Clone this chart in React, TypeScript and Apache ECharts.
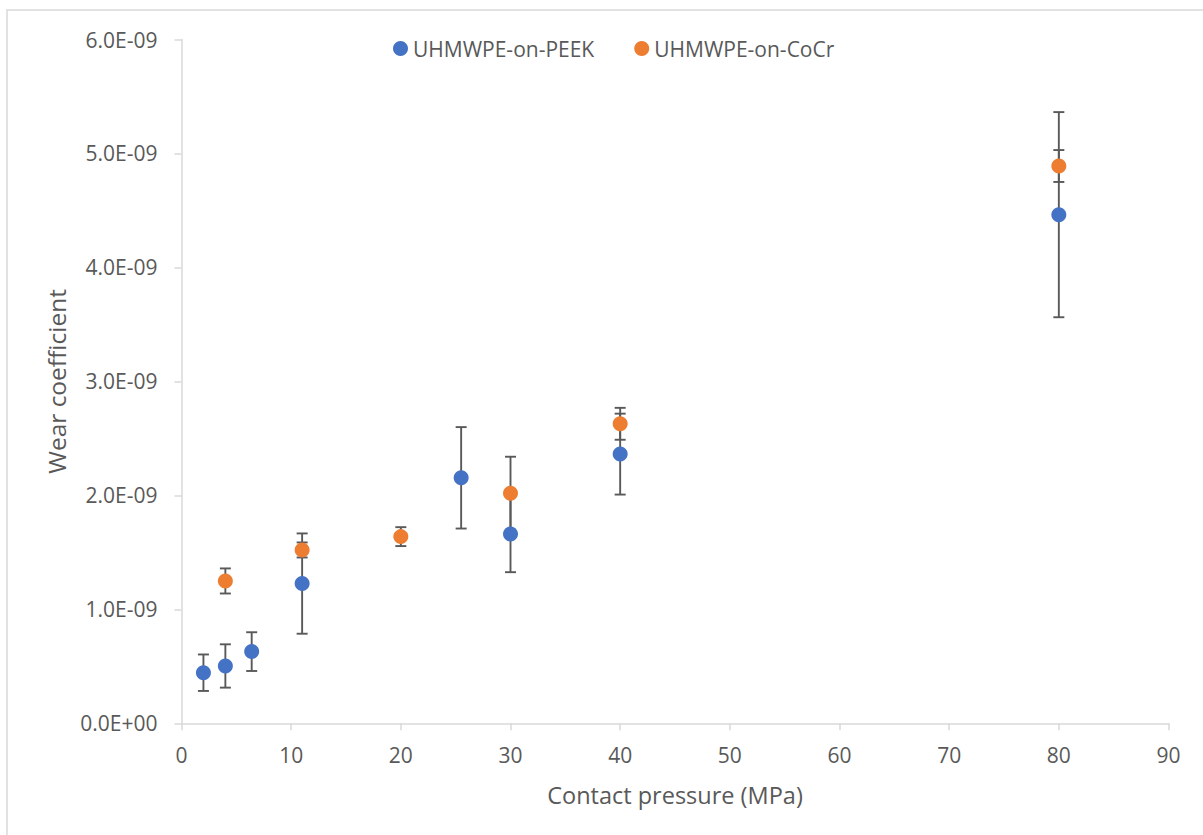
import React, { useEffect, useRef } from "react";
import * as echarts from "echarts";

const peekX = [2, 4, 6.4, 11, 25.5, 30, 40, 80];
const peekY = [0.444e-9, 0.503e-9, 0.629e-9, 1.226e-9, 2.154e-9, 1.662e-9, 2.362e-9, 4.463e-9];
const peekErr = [0.16e-9, 0.19e-9, 0.17e-9, 0.44e-9, 0.445e-9, 0.336e-9, 0.355e-9, 0.9e-9];

const cocrX = [4, 11, 20, 30, 40, 80];
const cocrY = [1.249e-9, 1.521e-9, 1.638e-9, 2.019e-9, 2.628e-9, 4.89e-9];
const cocrErr = [0.11e-9, 0.066e-9, 0.083e-9, 0.32e-9, 0.14e-9, 0.14e-9];

const seriesNames = ["UHMWPE-on-PEEK", "UHMWPE-on-CoCr"];
const colors = ["#4472C4", "#ED7D31"];
const xTitle = "Contact pressure (MPa)";
const yTitle = "Wear coefficient";

const FONT = "Open Sans";
const TXT = "#595959";
const AXIS = "#d9d9d9";

function fmtY(v: number): string {
  if (Math.abs(v) < 1e-20) return "0.0E+00";
  const s = v.toExponential(1);
  const [m, e] = s.split("e");
  const n = parseInt(e, 10);
  return m + "E" + (n < 0 ? "-" : "+") + String(Math.abs(n)).padStart(2, "0");
}

function errData(xs: number[], ys: number[], es: number[]) {
  return xs.map((x, i) => [x, ys[i], ys[i] - es[i], ys[i] + es[i]]);
}

function errSeries(name: string, data: number[][]) {
  return {
    type: "custom",
    name: name + " err",
    z: 1,
    silent: true,
    encode: { x: 0, y: [1, 2, 3] },
    data,
    renderItem: (params: any, api: any) => {
      const x = api.value(0);
      const lo = api.value(2);
      const hi = api.value(3);
      const top = api.coord([x, hi]);
      const bot = api.coord([x, lo]);
      const hw = 5.5;
      const st = { stroke: "#595959", lineWidth: 1.9 };
      return {
        type: "group",
        children: [
          { type: "line", shape: { x1: top[0], y1: top[1], x2: bot[0], y2: bot[1] }, style: st },
          { type: "line", shape: { x1: top[0] - hw, y1: top[1], x2: top[0] + hw, y2: top[1] }, style: st },
          { type: "line", shape: { x1: bot[0] - hw, y1: bot[1], x2: bot[0] + hw, y2: bot[1] }, style: st },
        ],
      };
    },
  };
}

export default function App() {
  const ref = useRef<HTMLDivElement>(null);
  useEffect(() => {
    if (!ref.current) return;
    const chart = echarts.init(ref.current, undefined, { renderer: "svg" });
    chart.setOption({
      animation: false,
      backgroundColor: "#ffffff",
      textStyle: { fontFamily: FONT },
      graphic: [
        {
          type: "rect",
          shape: { x: 7, y: 10, width: 1300, height: 900 },
          style: { fill: "none", stroke: AXIS, lineWidth: 1.5 },
          silent: true,
          z: -10,
        },
      ],
      grid: { left: 181.5, right: 34.5, top: 39.5, bottom: 111.7 },
      legend: {
        left: 393,
        top: 38,
        padding: 0,
        icon: "circle",
        itemWidth: 15,
        itemHeight: 15,
        itemGap: 40,
        data: seriesNames,
        textStyle: { color: TXT, fontSize: 21, fontFamily: FONT, padding: [0, 0, 0, 0] },
      },
      xAxis: {
        type: "value",
        min: 0,
        max: 90,
        interval: 10,
        name: xTitle,
        nameLocation: "middle",
        nameGap: 60,
        nameTextStyle: { color: TXT, fontSize: 23.5, fontFamily: FONT },
        axisLine: { show: true, lineStyle: { color: AXIS, width: 1.5 } },
        axisTick: { show: true, length: 7, lineStyle: { color: AXIS, width: 1.5 } },
        axisLabel: { color: TXT, fontSize: 21, margin: 21, fontFamily: FONT },
        splitLine: { show: false },
      },
      yAxis: {
        type: "value",
        min: 0,
        max: 6e-9,
        interval: 1e-9,
        name: yTitle,
        nameLocation: "middle",
        nameGap: 113,
        nameTextStyle: { color: TXT, fontSize: 24.5, fontFamily: FONT },
        axisLine: { show: true, lineStyle: { color: AXIS, width: 1.5 } },
        axisTick: { show: true, length: 7, lineStyle: { color: AXIS, width: 1.5 } },
        axisLabel: { color: TXT, fontSize: 21, margin: 24, fontFamily: FONT, formatter: fmtY },
        splitLine: { show: false },
      },
      series: [
        errSeries(seriesNames[0], errData(peekX, peekY, peekErr)),
        errSeries(seriesNames[1], errData(cocrX, cocrY, cocrErr)),
        {
          type: "scatter",
          name: seriesNames[0],
          z: 5,
          symbol: "circle",
          symbolSize: 15,
          itemStyle: { color: colors[0], opacity: 1 },
          data: peekX.map((x, i) => [x, peekY[i]]),
        },
        {
          type: "scatter",
          name: seriesNames[1],
          z: 6,
          symbol: "circle",
          symbolSize: 15,
          itemStyle: { color: colors[1], opacity: 1 },
          data: cocrX.map((x, i) => [x, cocrY[i]]),
        },
      ],
    });
    return () => chart.dispose();
  }, []);
  return (
    <div
      ref={ref}
      style={{ position: "fixed", left: 0, top: 0, width: 1203, height: 835 }}
    />
  );
}
